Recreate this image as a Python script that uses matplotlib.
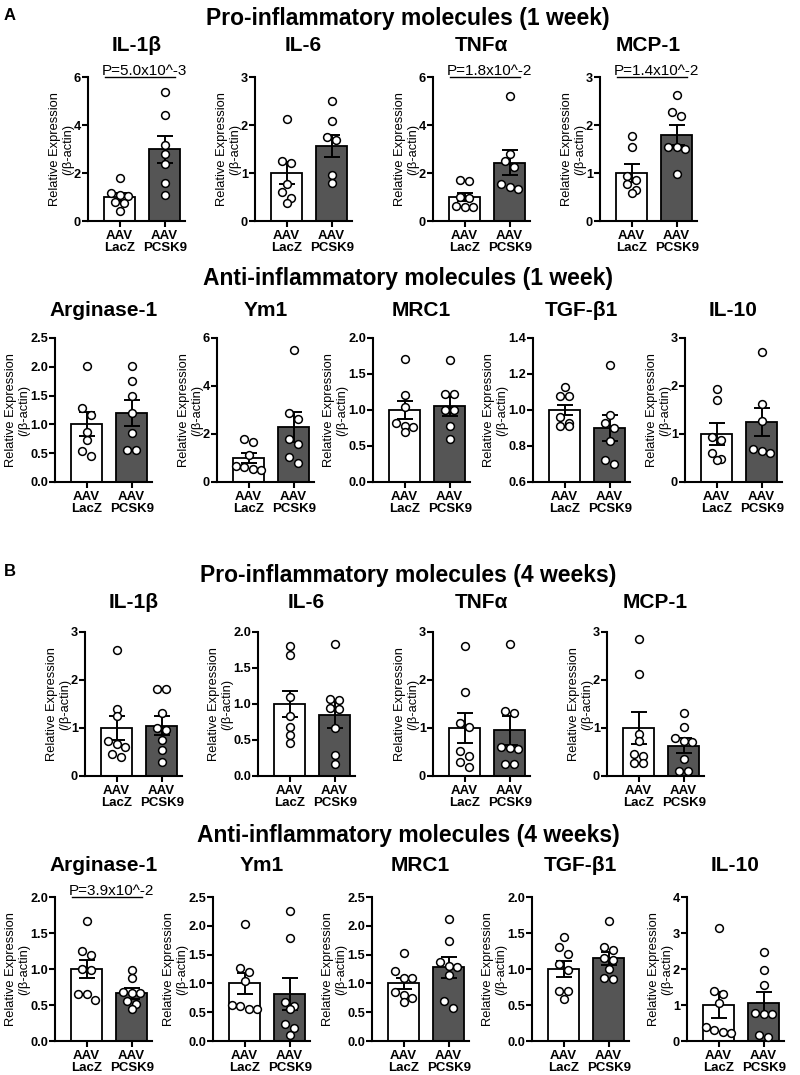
import numpy as np
import matplotlib
matplotlib.use("Agg")
from matplotlib import pyplot as plt
from matplotlib import transforms, font_manager

groups = ["AAV\nLacZ", "AAV\nPCSK9"]
ylabel = "Relative Expression\n(/β-actin)"
row_titles = ["Pro-inflammatory molecules (1 week)", "Anti-inflammatory molecules (1 week)",
              "Pro-inflammatory molecules (4 weeks)", "Anti-inflammatory molecules (4 weeks)"]
pro_names = ["IL-1β", "IL-6", "TNFα", "MCP-1"]
anti_names = ["Arginase-1", "Ym1", "MRC1", "TGF-β1", "IL-10"]

# --- A, pro-inflammatory, 1 week
a_il1b_lacz = [1.78, 1.15, 1.1, 1.05, 0.78, 0.75, 0.42]
a_il1b_pcsk9 = [5.37, 4.4, 3.15, 2.78, 2.38, 1.57, 1.08]
a_il1b_bar, a_il1b_sem, a_il1b_ticks = [1.0, 2.98], [0.18, 0.57], [0, 2, 4, 6]
a_il6_lacz = [2.13, 1.25, 1.2, 0.78, 0.6, 0.48, 0.38]
a_il6_pcsk9 = [2.5, 2.08, 1.75, 1.68, 0.95, 0.8]
a_il6_bar, a_il6_sem, a_il6_ticks = [1.0, 1.57], [0.23, 0.23], [0, 1, 2, 3]
a_tnf_lacz = [1.72, 1.65, 1.0, 0.95, 0.62, 0.6, 0.58]
a_tnf_pcsk9 = [5.22, 2.8, 2.5, 2.25, 1.55, 1.4, 1.35]
a_tnf_bar, a_tnf_sem, a_tnf_ticks = [1.0, 2.42], [0.18, 0.52], [0, 2, 4, 6]
a_mcp_lacz = [1.77, 1.55, 0.93, 0.85, 0.78, 0.65, 0.58]
a_mcp_pcsk9 = [2.62, 2.28, 2.18, 1.55, 1.55, 1.5, 0.97]
a_mcp_bar, a_mcp_sem, a_mcp_ticks = [1.0, 1.8], [0.18, 0.21], [0, 1, 2, 3]
a_pro_p = ["P=5.0x10^-3", None, "P=1.8x10^-2", "P=1.4x10^-2"]

# --- A, anti-inflammatory, 1 week
a_arg_lacz = [2.02, 1.28, 1.16, 0.87, 0.73, 0.53, 0.45]
a_arg_pcsk9 = [2.02, 1.75, 1.5, 1.2, 0.85, 0.55, 0.55]
a_arg_bar, a_arg_sem, a_arg_ticks = [1.0, 1.2], [0.21, 0.22], [0, 0.5, 1.0, 1.5, 2.0, 2.5]
a_ym1_lacz = [1.8, 1.68, 1.12, 0.67, 0.62, 0.55, 0.52]
a_ym1_pcsk9 = [5.48, 2.88, 2.62, 1.8, 1.6, 1.05, 0.78]
a_ym1_bar, a_ym1_sem, a_ym1_ticks = [1.0, 2.28], [0.21, 0.62], [0, 2, 4, 6]
a_mrc_lacz = [1.71, 1.21, 1.04, 0.82, 0.78, 0.77, 0.7]
a_mrc_pcsk9 = [1.7, 1.22, 1.22, 1.0, 1.0, 0.78, 0.6]
a_mrc_bar, a_mrc_sem, a_mrc_ticks = [1.0, 1.05], [0.13, 0.13], [0, 0.5, 1.0, 1.5, 2.0]
a_tgf_lacz = [1.13, 1.08, 1.08, 0.96, 0.93, 0.91, 0.91]
a_tgf_pcsk9 = [1.25, 0.97, 0.93, 0.9, 0.83, 0.72, 0.7]
a_tgf_bar, a_tgf_sem, a_tgf_ticks = [1.0, 0.9], [0.03, 0.07], [0.6, 0.8, 1.0, 1.2, 1.4]
a_il10_lacz = [1.93, 1.71, 0.93, 0.87, 0.61, 0.47, 0.45]
a_il10_pcsk9 = [2.7, 1.62, 1.27, 0.68, 0.65, 0.6]
a_il10_bar, a_il10_sem, a_il10_ticks = [1.0, 1.25], [0.22, 0.29], [0, 1, 2, 3]
a_anti_p = [None, None, None, None, None]

# --- B, pro-inflammatory, 4 weeks
b_il1b_lacz = [2.62, 1.4, 1.25, 0.72, 0.66, 0.6, 0.45, 0.4]
b_il1b_pcsk9 = [1.82, 1.82, 1.32, 1.0, 0.95, 0.75, 0.55, 0.3]
b_il1b_bar, b_il1b_sem, b_il1b_ticks = [1.0, 1.05], [0.26, 0.2], [0, 1, 2, 3]
b_il6_lacz = [1.8, 1.68, 1.1, 0.83, 0.68, 0.57, 0.46]
b_il6_pcsk9 = [1.84, 1.07, 1.05, 0.95, 0.93, 0.66, 0.29, 0.17]
b_il6_bar, b_il6_sem, b_il6_ticks = [1.0, 0.85], [0.18, 0.19], [0, 0.5, 1.0, 1.5, 2.0]
b_tnf_lacz = [2.7, 1.76, 1.11, 1.02, 0.53, 0.42, 0.3, 0.18]
b_tnf_pcsk9 = [2.76, 1.36, 1.31, 0.6, 0.58, 0.57, 0.26, 0.24]
b_tnf_bar, b_tnf_sem, b_tnf_ticks = [1.0, 0.95], [0.31, 0.3], [0, 1, 2, 3]
b_mcp_lacz = [2.85, 2.13, 0.88, 0.72, 0.45, 0.42, 0.28, 0.27]
b_mcp_pcsk9 = [1.32, 1.02, 0.8, 0.72, 0.7, 0.35, 0.11, 0.11]
b_mcp_bar, b_mcp_sem, b_mcp_ticks = [1.0, 0.63], [0.34, 0.16], [0, 1, 2, 3]
b_pro_p = [None, None, None, None]

# --- B, anti-inflammatory, 4 weeks
b_arg_lacz = [1.66, 1.25, 1.2, 1.0, 0.98, 0.65, 0.65, 0.57]
b_arg_pcsk9 = [0.99, 0.88, 0.68, 0.67, 0.66, 0.55, 0.52, 0.45]
b_arg_bar, b_arg_sem, b_arg_ticks = [1.0, 0.66], [0.13, 0.07], [0, 0.5, 1.0, 1.5, 2.0]
b_ym1_lacz = [2.03, 1.27, 1.2, 1.05, 0.62, 0.6, 0.55, 0.55]
b_ym1_pcsk9 = [2.26, 1.78, 0.68, 0.6, 0.55, 0.3, 0.23, 0.1]
b_ym1_bar, b_ym1_sem, b_ym1_ticks = [1.0, 0.81], [0.18, 0.28], [0, 0.5, 1.0, 1.5, 2.0, 2.5]
b_mrc_lacz = [1.53, 1.22, 1.1, 1.1, 0.85, 0.8, 0.75, 0.67]
b_mrc_pcsk9 = [2.11, 1.74, 1.38, 1.3, 1.28, 1.15, 0.7, 0.58]
b_mrc_bar, b_mrc_sem, b_mrc_ticks = [1.0, 1.28], [0.1, 0.18], [0, 0.5, 1.0, 1.5, 2.0, 2.5]
b_tgf_lacz = [1.44, 1.3, 1.21, 1.07, 0.98, 0.7, 0.69, 0.58]
b_tgf_pcsk9 = [1.67, 1.3, 1.26, 1.15, 1.12, 1.0, 0.88, 0.86]
b_tgf_bar, b_tgf_sem, b_tgf_ticks = [1.0, 1.15], [0.11, 0.09], [0, 0.5, 1.0, 1.5, 2.0]
b_il10_lacz = [3.13, 1.4, 1.3, 1.05, 0.4, 0.3, 0.25, 0.22]
b_il10_pcsk9 = [2.47, 1.97, 1.55, 0.78, 0.75, 0.75, 0.17, 0.1]
b_il10_bar, b_il10_sem, b_il10_ticks = [1.0, 1.06], [0.35, 0.3], [0, 1, 2, 3, 4]
b_anti_p = ["P=3.9x10^-2", None, None, None, None]

rows = [
    (pro_names, a_pro_p, [
        (a_il1b_lacz, a_il1b_pcsk9, a_il1b_bar, a_il1b_sem, a_il1b_ticks),
        (a_il6_lacz, a_il6_pcsk9, a_il6_bar, a_il6_sem, a_il6_ticks),
        (a_tnf_lacz, a_tnf_pcsk9, a_tnf_bar, a_tnf_sem, a_tnf_ticks),
        (a_mcp_lacz, a_mcp_pcsk9, a_mcp_bar, a_mcp_sem, a_mcp_ticks)]),
    (anti_names, a_anti_p, [
        (a_arg_lacz, a_arg_pcsk9, a_arg_bar, a_arg_sem, a_arg_ticks),
        (a_ym1_lacz, a_ym1_pcsk9, a_ym1_bar, a_ym1_sem, a_ym1_ticks),
        (a_mrc_lacz, a_mrc_pcsk9, a_mrc_bar, a_mrc_sem, a_mrc_ticks),
        (a_tgf_lacz, a_tgf_pcsk9, a_tgf_bar, a_tgf_sem, a_tgf_ticks),
        (a_il10_lacz, a_il10_pcsk9, a_il10_bar, a_il10_sem, a_il10_ticks)]),
    (pro_names, b_pro_p, [
        (b_il1b_lacz, b_il1b_pcsk9, b_il1b_bar, b_il1b_sem, b_il1b_ticks),
        (b_il6_lacz, b_il6_pcsk9, b_il6_bar, b_il6_sem, b_il6_ticks),
        (b_tnf_lacz, b_tnf_pcsk9, b_tnf_bar, b_tnf_sem, b_tnf_ticks),
        (b_mcp_lacz, b_mcp_pcsk9, b_mcp_bar, b_mcp_sem, b_mcp_ticks)]),
    (anti_names, b_anti_p, [
        (b_arg_lacz, b_arg_pcsk9, b_arg_bar, b_arg_sem, b_arg_ticks),
        (b_ym1_lacz, b_ym1_pcsk9, b_ym1_bar, b_ym1_sem, b_ym1_ticks),
        (b_mrc_lacz, b_mrc_pcsk9, b_mrc_bar, b_mrc_sem, b_mrc_ticks),
        (b_tgf_lacz, b_tgf_pcsk9, b_tgf_bar, b_tgf_sem, b_tgf_ticks),
        (b_il10_lacz, b_il10_pcsk9, b_il10_bar, b_il10_sem, b_il10_ticks)]),
]

# layout in pixels
W, H = 800, 1075
row_top = [77, 338, 632, 897]
row_lefts = [[88, 255, 433, 600], [55, 217, 373, 533, 685],
             [85, 258, 433, 607], [55, 213, 372, 532, 687]]
title_pad = [19, 16, 17, 19]
row_title_y = [25, 285, 582, 842]
ax_w, ax_h = 97, 144

names = {f.name for f in font_manager.fontManager.ttflist}
narrow = "Liberation Sans Narrow" in names
plt.rcParams['font.family'] = ['Liberation Sans', 'DejaVu Sans']

fig = plt.figure(figsize=(W / 100, H / 100), dpi=100)


def swarm(ax, vals, d):
    ys = ax.transData.transform(np.column_stack([np.zeros(len(vals)), vals]))[:, 1]
    order = np.argsort(-ys)
    offs = np.zeros(len(vals))
    i = 0
    while i < len(order):
        j = i + 1
        while j < len(order) and ys[order[i]] - ys[order[j]] < d * 0.85:
            j += 1
        n = j - i
        for k in range(n):
            offs[order[i + k]] = (k - (n - 1) / 2) * d
        i = j
    ppu = ax.transData.transform((1, 0))[0] - ax.transData.transform((0, 0))[0]
    return offs / ppu


for r, (pnames, pvals, panels) in enumerate(rows):
    for c, (lacz, pcsk9, bar, sem, ticks) in enumerate(panels):
        left = row_lefts[r][c]
        ax = fig.add_axes([left / W, 1 - (row_top[r] + ax_h) / H, ax_w / W, ax_h / H])
        ax.set_xlim(-0.7, 1.45)
        ax.set_ylim(ticks[0], ticks[-1])
        ax.bar([0, 1], bar, width=0.68, color=["white", "#555555"], edgecolor="black",
               linewidth=1.3, zorder=2)
        ax.errorbar([0, 1], bar, yerr=sem, fmt="none", ecolor="black", elinewidth=1.4,
                    capsize=6, capthick=1.4, zorder=3)
        for x0, vals in ((0, lacz), (1, pcsk9)):
            xs = x0 + swarm(ax, vals, 8.4)
            ax.plot(xs, vals, "o", ms=5.6, mfc="white", mec="black", mew=1.1,
                    zorder=4, clip_on=False)
        ax.spines[["top", "right"]].set_visible(False)
        ax.spines[["left", "bottom"]].set_linewidth(1.5)
        ax.set_yticks(ticks)
        if all(float(t).is_integer() for t in ticks):
            ax.set_yticklabels(["%d" % t for t in ticks])
        else:
            ax.set_yticklabels(["%.1f" % t for t in ticks])
        ax.set_xticks([0, 1])
        ax.set_xticklabels(groups, fontweight="bold", fontsize=9.5, linespacing=1.05)
        ax.tick_params(axis="y", length=4, width=1.5, pad=1, labelsize=9.2)
        ax.tick_params(axis="x", length=4, width=1.5, pad=2.5)
        for lab in ax.get_yticklabels():
            lab.set_fontweight("bold")
        ax.set_ylabel(ylabel, fontsize=9.3, labelpad=0, linespacing=1.1)
        ax.set_title(pnames[c], fontsize=15, fontweight="bold", pad=title_pad[r])
        if pvals[c]:
            tr = ax.get_xaxis_transform()
            ax.plot([-0.33, 1.22], [1.0, 1.0], color="black", lw=1.0, transform=tr,
                    clip_on=False)
            off = transforms.offset_copy(tr, fig=fig, x=0, y=2, units="dots")
            ax.text(-0.4, 1.0, pvals[c], fontsize=11, ha="left", va="baseline",
                    transform=off)

for r, t in enumerate(row_titles):
    if narrow:
        fig.text(408 / W, 1 - row_title_y[r] / H, t, ha="center", va="baseline",
                 fontsize=19.5, fontweight="bold", family=["Liberation Sans Narrow", "DejaVu Sans"])
    else:
        fig.text(408 / W, 1 - row_title_y[r] / H, t, ha="center", va="baseline",
                 fontsize=16.5, fontweight="bold")

fig.text(4 / W, 1 - 20 / H, "A", fontsize=12, fontweight="bold", va="baseline")
fig.text(4 / W, 1 - 576 / H, "B", fontsize=12, fontweight="bold", va="baseline")

fig.savefig("out.png", dpi=100)
